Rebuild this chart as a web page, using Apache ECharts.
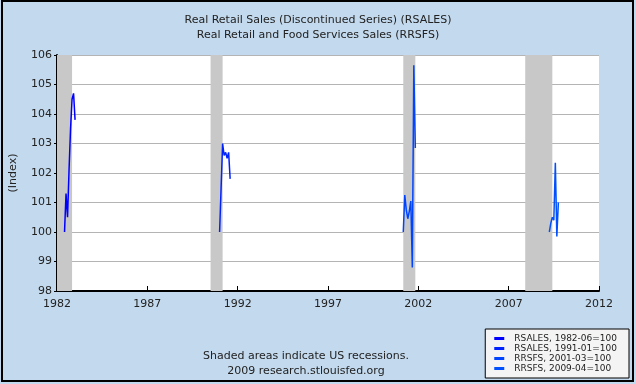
<!DOCTYPE html>
<html><head><meta charset="utf-8">
<script src="https://cdn.jsdelivr.net/npm/echarts@6/dist/echarts.min.js"></script>
<style>html,body{margin:0;padding:0;background:#c3d9ed;}#c{width:636px;height:384px;box-sizing:border-box;}</style>
</head><body><div id="c"></div>
<script>
const titleLines = ['Real Retail Sales (Discontinued Series) (RSALES)', 'Real Retail and Food Services Sales (RRSFS)'];
const seriesNames = ['RSALES, 1982-06=100', 'RSALES, 1991-01=100', 'RRSFS, 2001-03=100', 'RRSFS, 2009-04=100'];
const s1Months = ['1982-06','1982-07','1982-08','1982-09','1982-10','1982-11','1982-12','1983-01'];
const s1Values = [100.0, 101.3, 100.5, 102.1, 103.5, 104.5, 104.7, 103.8];
const s2Months = ['1991-01','1991-02','1991-03','1991-04','1991-05','1991-06','1991-07','1991-08'];
const s2Values = [100.0, 101.5, 103.0, 102.6, 102.7, 102.5, 102.7, 101.8];
const s3Months = ['2001-03','2001-04','2001-05','2001-06','2001-07','2001-08','2001-09','2001-10','2001-11'];
const s3Values = [100.0, 101.25, 100.75, 100.45, 100.7, 101.05, 98.8, 105.65, 102.85];
const s4Months = ['2009-04','2009-05','2009-06','2009-07','2009-08','2009-09','2009-10'];
const s4Values = [100.0, 100.3, 100.5, 100.4, 102.35, 99.85, 101.0];
const recessions = [['1981-07','1982-11'], ['1990-07','1991-03'], ['2001-03','2001-11'], ['2007-12','2009-06']];
const yearTicks = [1982, 1987, 1992, 1997, 2002, 2007, 2012];
const yTicks = [98, 99, 100, 101, 102, 103, 104, 105, 106];
const footLines = ['Shaded areas indicate US recessions.', '2009 research.stlouisfed.org'];

const colors = ['#0000ff', '#0022ff', '#0044ff', '#0050ff'];
function dec(m){ const p = m.split('-'); return +p[0] + (+p[1]-1)/12; }
const xMin = yearTicks[0], xMax = yearTicks[yearTicks.length-1];
const allMonths = [s1Months, s2Months, s3Months, s4Months];
const allValues = [s1Values, s2Values, s3Values, s4Values];

const series = allMonths.map((ms, i) => ({
  name: seriesNames[i], type: 'line', showSymbol: false, symbol: 'none',
  data: ms.map((m, j) => [dec(m), allValues[i][j]]),
  lineStyle: { color: colors[i], width: 1.5 }, itemStyle: { color: colors[i] },
  z: 5
}));
series.push({
  name: 'rec', type: 'line', data: [], silent: true,
  markArea: { silent: true, itemStyle: { color: '#c8c8c8' },
    data: recessions.map(r => [{ xAxis: Math.max(dec(r[0]), xMin) }, { xAxis: dec(r[1]) }]) },
  z: 1
});

const chart = echarts.init(document.getElementById('c'));
chart.setOption({
  animation: false,
  backgroundColor: '#c3d9ed',
  title: { text: titleLines.join('\n'), left: 'center', top: 8,
    textStyle: { fontFamily: 'DejaVu Sans', fontSize: 11, fontWeight: 'normal', color: '#222', lineHeight: 15 } },
  grid: { left: 56, right: 37, top: 55, bottom: 93, backgroundColor: '#ffffff', show: true, borderWidth: 0 },
  xAxis: { type: 'value', min: xMin, max: xMax, interval: 5,
    axisLine: { lineStyle: { color: '#000', width: 2 } },
    axisTick: { inside: true, length: 5, lineStyle: { color: '#000' } },
    axisLabel: { fontFamily: 'DejaVu Sans', fontSize: 11, color: '#222', margin: 8, formatter: v => String(v) },
    splitLine: { show: false } },
  yAxis: { type: 'value', min: yTicks[0], max: yTicks[yTicks.length-1], interval: 1,
    name: '(Index)', nameLocation: 'middle', nameRotate: 90, nameGap: 38,
    nameTextStyle: { fontFamily: 'DejaVu Sans', fontSize: 11, color: '#222' },
    axisLine: { show: true, lineStyle: { color: '#000', width: 2 } },
    axisTick: { show: true, length: 3, lineStyle: { color: '#000' } },
    axisLabel: { fontFamily: 'DejaVu Sans', fontSize: 11, color: '#222', margin: 5 },
    splitLine: { lineStyle: { color: '#b4b4b4', width: 1 } } },
  legend: { data: seriesNames, orient: 'vertical', right: 7, bottom: 6,
    backgroundColor: '#f4f4f4', borderColor: '#000', borderWidth: 1,
    padding: [5, 12, 5, 9], itemGap: 1, itemWidth: 10, itemHeight: 3, icon: 'rect',
    textStyle: { fontFamily: 'DejaVu Sans', fontSize: 9, color: '#222', padding: [0, 0, 0, 5] } },
  graphic: [
    { type: 'text', x: 306, y: 349, style: { text: footLines.join('\n'), fontFamily: 'DejaVu Sans', fontSize: 11, fill: '#222', lineHeight: 15, align: 'center' } },
    { type: 'rect', x: 2, y: 1, shape: { width: 631, height: 380 }, style: { fill: 'none', stroke: '#000', lineWidth: 2 }, silent: true }
  ],
  series: series
});
</script></body></html>
